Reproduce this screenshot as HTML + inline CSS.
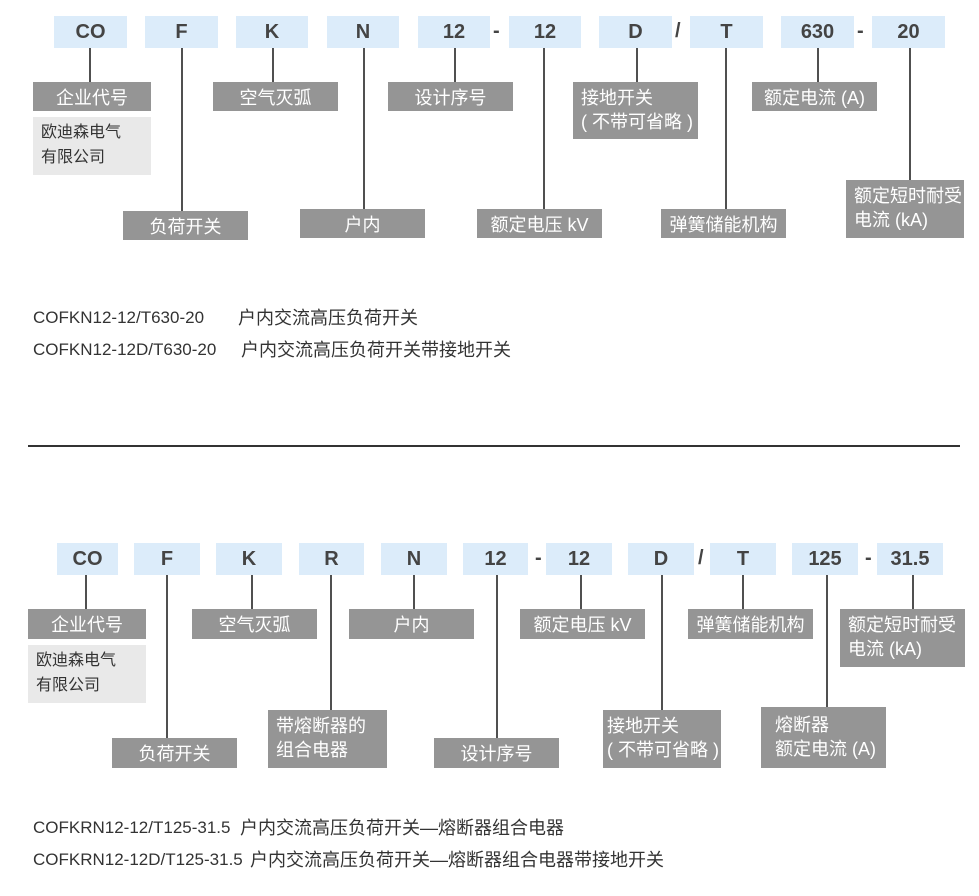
<!DOCTYPE html>
<html><head><meta charset="utf-8"><style>
body{margin:0;width:979px;height:896px;background:#fff;position:relative;overflow:hidden;font-family:"Liberation Sans","Noto Sans CJK SC",sans-serif}
.c{position:absolute;background:#dcecfa;color:#444;font-weight:bold;font-size:20px;display:flex;align-items:center;justify-content:center}
.s{position:absolute;color:#444;font-weight:bold;font-size:20px}
.l{position:absolute;background:#959595;color:#fff;font-size:18px;display:flex;align-items:center;justify-content:center;white-space:nowrap}
.m{position:absolute;background:#959595;color:#fff;font-size:18px;line-height:24px;padding:4px 0 0 8px;box-sizing:border-box;white-space:nowrap}
.g{position:absolute;background:#e9e9e9;color:#333;font-size:16px;line-height:25px;padding:3px 0 0 8px;box-sizing:border-box}
.v{position:absolute;width:2px;background:#505050}
.t{position:absolute;color:#333;font-size:17px;white-space:nowrap;line-height:20px}
.t.z{font-size:18px}
</style></head><body>
<!-- TOP -->
<div class="c" style="left:54px;top:16px;width:73px;height:32px">CO</div>
<div class="c" style="left:145px;top:16px;width:73px;height:32px">F</div>
<div class="c" style="left:236px;top:16px;width:72px;height:32px">K</div>
<div class="c" style="left:327px;top:16px;width:72px;height:32px">N</div>
<div class="c" style="left:418px;top:16px;width:72px;height:32px">12</div>
<div class="s" style="left:493px;top:20px">-</div>
<div class="c" style="left:509px;top:16px;width:72px;height:32px">12</div>
<div class="c" style="left:599px;top:16px;width:73px;height:32px">D</div>
<div class="s" style="left:675px;top:20px">/</div>
<div class="c" style="left:690px;top:16px;width:73px;height:32px">T</div>
<div class="c" style="left:781px;top:16px;width:73px;height:32px">630</div>
<div class="s" style="left:857px;top:20px">-</div>
<div class="c" style="left:872px;top:16px;width:73px;height:32px">20</div>

<div class="v" style="left:89px;top:48px;height:34px"></div>
<div class="v" style="left:181px;top:48px;height:163px"></div>
<div class="v" style="left:272px;top:48px;height:34px"></div>
<div class="v" style="left:363px;top:48px;height:161px"></div>
<div class="v" style="left:454px;top:48px;height:34px"></div>
<div class="v" style="left:543px;top:48px;height:161px"></div>
<div class="v" style="left:636px;top:48px;height:34px"></div>
<div class="v" style="left:725px;top:48px;height:161px"></div>
<div class="v" style="left:817px;top:48px;height:34px"></div>
<div class="v" style="left:909px;top:48px;height:132px"></div>

<div class="l" style="left:33px;top:82px;width:118px;height:29px">企业代号</div>
<div class="g" style="left:33px;top:117px;width:118px;height:58px">欧迪森电气<br>有限公司</div>
<div class="l" style="left:213px;top:82px;width:125px;height:29px">空气灭弧</div>
<div class="l" style="left:388px;top:82px;width:125px;height:29px">设计序号</div>
<div class="m" style="left:573px;top:82px;width:125px;height:57px">接地开关<br>( 不带可省略 )</div>
<div class="l" style="left:752px;top:82px;width:125px;height:29px">额定电流 (A)</div>
<div class="l" style="left:123px;top:211px;width:125px;height:29px">负荷开关</div>
<div class="l" style="left:300px;top:209px;width:125px;height:29px">户内</div>
<div class="l" style="left:477px;top:209px;width:125px;height:29px">额定电压 kV</div>
<div class="l" style="left:661px;top:209px;width:125px;height:29px">弹簧储能机构</div>
<div class="m" style="left:846px;top:180px;width:118px;height:58px">额定短时耐受<br>电流 (kA)</div>

<div class="t" style="left:33px;top:308px">COFKN12-12/T630-20</div>
<div class="t z" style="left:238px;top:308px">户内交流高压负荷开关</div>
<div class="t" style="left:33px;top:340px">COFKN12-12D/T630-20</div>
<div class="t z" style="left:241px;top:340px">户内交流高压负荷开关带接地开关</div>

<div style="position:absolute;left:28px;top:445px;width:932px;height:2px;background:#333"></div>

<!-- BOTTOM -->
<div class="c" style="left:57px;top:543px;width:61px;height:32px">CO</div>
<div class="c" style="left:134px;top:543px;width:66px;height:32px">F</div>
<div class="c" style="left:216px;top:543px;width:66px;height:32px">K</div>
<div class="c" style="left:299px;top:543px;width:65px;height:32px">R</div>
<div class="c" style="left:381px;top:543px;width:66px;height:32px">N</div>
<div class="c" style="left:463px;top:543px;width:65px;height:32px">12</div>
<div class="s" style="left:535px;top:547px">-</div>
<div class="c" style="left:546px;top:543px;width:66px;height:32px">12</div>
<div class="c" style="left:628px;top:543px;width:66px;height:32px">D</div>
<div class="s" style="left:698px;top:547px">/</div>
<div class="c" style="left:710px;top:543px;width:66px;height:32px">T</div>
<div class="c" style="left:792px;top:543px;width:66px;height:32px">125</div>
<div class="s" style="left:865px;top:547px">-</div>
<div class="c" style="left:877px;top:543px;width:66px;height:32px">31.5</div>

<div class="v" style="left:85px;top:575px;height:34px"></div>
<div class="v" style="left:166px;top:575px;height:163px"></div>
<div class="v" style="left:251px;top:575px;height:34px"></div>
<div class="v" style="left:330px;top:575px;height:135px"></div>
<div class="v" style="left:413px;top:575px;height:34px"></div>
<div class="v" style="left:496px;top:575px;height:163px"></div>
<div class="v" style="left:580px;top:575px;height:34px"></div>
<div class="v" style="left:661px;top:575px;height:135px"></div>
<div class="v" style="left:742px;top:575px;height:34px"></div>
<div class="v" style="left:826px;top:575px;height:132px"></div>
<div class="v" style="left:912px;top:575px;height:34px"></div>

<div class="l" style="left:28px;top:609px;width:118px;height:30px">企业代号</div>
<div class="g" style="left:28px;top:645px;width:118px;height:58px">欧迪森电气<br>有限公司</div>
<div class="l" style="left:192px;top:609px;width:125px;height:30px">空气灭弧</div>
<div class="l" style="left:349px;top:609px;width:125px;height:30px">户内</div>
<div class="l" style="left:520px;top:609px;width:125px;height:30px">额定电压 kV</div>
<div class="l" style="left:688px;top:609px;width:125px;height:30px">弹簧储能机构</div>
<div class="m" style="left:840px;top:609px;width:125px;height:58px">额定短时耐受<br>电流 (kA)</div>
<div class="l" style="left:112px;top:738px;width:125px;height:30px">负荷开关</div>
<div class="m" style="left:268px;top:710px;width:119px;height:58px">带熔断器的<br>组合电器</div>
<div class="l" style="left:434px;top:738px;width:125px;height:30px">设计序号</div>
<div class="m" style="left:603px;top:710px;width:118px;height:58px;padding-left:4px">接地开关<br>( 不带可省略 )</div>
<div class="m" style="left:761px;top:707px;width:125px;height:61px;padding-left:14px;padding-top:6px">熔断器<br>额定电流 (A)</div>

<div class="t" style="left:33px;top:818px">COFKRN12-12/T125-31.5</div>
<div class="t z" style="left:240px;top:818px">户内交流高压负荷开关—熔断器组合电器</div>
<div class="t" style="left:33px;top:850px">COFKRN12-12D/T125-31.5</div>
<div class="t z" style="left:250px;top:850px">户内交流高压负荷开关—熔断器组合电器带接地开关</div>
</body></html>
